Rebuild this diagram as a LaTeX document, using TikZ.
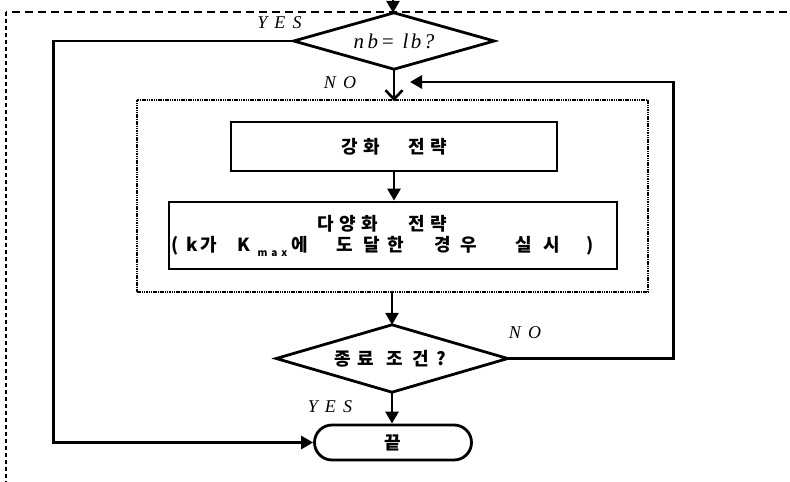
\documentclass[tikz,border=0pt]{standalone}
\usepackage{fontspec}
\setmainfont{Liberation Serif}
\newfontfamily\kr{Noto Sans CJK KR}
\newfontfamily\krs{Noto Sans CJK KR}[LetterSpace=40]
\newfontfamily\lat{Liberation Serif}[LetterSpace=40]
\newfontfamily\latn{Liberation Serif}[LetterSpace=12]
\newcommand\gl[2]{\makebox[#1pt][l]{#2}}
\usetikzlibrary{shapes.misc,arrows.meta}
\tikzset{
  arr/.style={line width=2.8pt,-{Triangle[length=12pt,width=13pt]}},
  oarr/.style={line width=2.8pt,-{Straight Barb[length=9pt,width=17pt,line width=2.6pt]}},
  decbox/.style={rectangle,inner sep=0pt},
  decline/.style={line width=2.8pt,line join=miter},
  procbox/.style={draw,line width=2.8pt,rectangle,inner sep=0pt,align=center},
  lbl/.style={font=\fontsize{18}{18}\selectfont\lat\itshape},
  krt/.style={font=\fontsize{18}{21}\selectfont\kr\bfseries},
}
\begin{document}
\begin{tikzpicture}[x=1pt,y=-1pt]
\useasboundingbox (0,0) rectangle (790,482);
% outer dashed frame (cropped)
\draw[line width=2.2pt,dash pattern=on 8pt off 5pt] (800,12) -- (6,12);
\draw[line width=2.2pt,dash pattern=on 4pt off 3pt] (6,12) -- (6,490);
% inner dotted frame
\node[draw,line width=1.8pt,dash pattern=on 1.5pt off 0.8pt,rectangle,minimum width=511pt,minimum height=192pt,inner sep=0pt] (inner) at (392.5,196) {};
% decision 1
\node[decbox,minimum width=200pt,minimum height=56pt] (d1) at (394,41)
  {\fontsize{21}{21}\selectfont\latn\itshape n\,b= lb?};
\draw[decline] (d1.west) -- (d1.north) -- (d1.east) -- (d1.south) -- cycle;
% process boxes
\node[procbox,krt,minimum width=326pt,minimum height=49pt] (b1) at (394,146.5)
  {\gl{22}{강}\gl{45}{화}\gl{22}{전}\gl{16}{략}};
\node[procbox,krt,minimum width=448pt,minimum height=67pt] (b2) at (393,235.5)
  {\gl{22}{다}\gl{22}{양}\gl{47}{화}\gl{22}{전}\gl{16}{략}\hspace*{22pt}\\
   \gl{15}{(}\gl{14}{k}\gl{37}{가}\gl{20}{K}\gl{34}{\raisebox{-5pt}{\fontsize{10}{10}\selectfont\krs max}}\gl{45}{에}\gl{27}{도}\gl{24}{달}\gl{47}{한}\gl{26}{경}\gl{55}{우}\gl{28}{실}\gl{43}{시}\gl{6}{)}\hspace*{22pt}};
% decision 2
\node[decbox,minimum width=231pt,minimum height=67pt,krt] (d2) at (392,358.5)
  {\gl{23}{종}\gl{29}{료}\gl{26}{조}\gl{24}{건}\gl{9}{?}\hspace*{4pt}};
\draw[decline] (d2.west) -- (d2.north) -- (d2.east) -- (d2.south) -- cycle;
% terminator
\node[draw,line width=2.8pt,rounded rectangle,minimum width=157pt,minimum height=35pt,inner sep=0pt,krt] (end) at (393,442.5) {끝};
% labels
\node[lbl] (yes1) at (279.5,23) {YES};
\node[lbl] (no1) at (340,83) {NO};
\node[lbl] (no2) at (525,333) {NO};
\node[lbl] (yes2) at (330,407) {YES};
% connectors
\coordinate (top) at (393,-20);
\coordinate (loopin) at (410,82);
\draw[arr] (top) -- (top |- d1.north);
\draw[oarr] (d1.south) -- ([yshift=-2pt]d1.south |- inner.north);
\draw[arr] (b1.south) -- (b1.south |- b2.north);
\draw[arr] (inner.south -| d2.north) -- (d2.north);
\draw[arr] (d2.south) -- (d2.south |- end.north);
\draw[arr] (d1.west) -- ++(-240,0) |- (end.west);
\draw[arr] (d2.east) -- ++(166,0) |- (loopin);
\end{tikzpicture}
\end{document}
